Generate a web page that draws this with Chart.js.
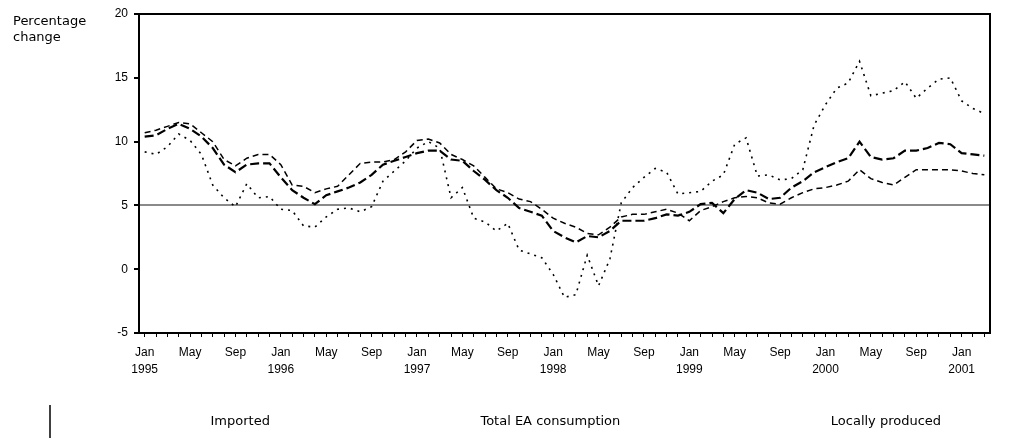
<!DOCTYPE html>
<html>
<head>
<meta charset="utf-8">
<title>Percentage change</title>
<script src="https://cdn.jsdelivr.net/npm/chart.js"></script>
<style>
	html, body { margin: 0; padding: 0; background: #fff; }
	#price-chart { display: block; }
</style>
</head>
<body>
<canvas id="price-chart" width="1027" height="439"></canvas>
<script>
var monthNames = ['Jan', 'Feb', 'Mar', 'Apr', 'May', 'Jun', 'Jul', 'Aug', 'Sep', 'Oct', 'Nov', 'Dec'];
var years = [1995, 1996, 1997, 1998, 1999, 2000, 2001];
var tickEvery = 4;
var yTicks = [-5, 0, 5, 10, 15, 20];
var refLine = 5;
var yTitle = ['Percentage', 'change'];
var seriesNames = ['Imported', 'Total EA consumption', 'Locally produced'];

var imported = [
	9.2, 9.0, 9.6, 10.6, 10.1, 9.0, 6.6, 5.6, 4.9, 6.7, 5.6, 5.7,
	4.7, 4.6, 3.4, 3.3, 4.1, 4.7, 4.8, 4.5, 4.9, 6.9, 7.7, 8.5,
	9.5, 10.0, 9.5, 5.6, 6.4, 4.0, 3.7, 3.0, 3.6, 1.5, 1.2, 0.9,
	-0.4, -2.2, -2.0, 1.1, -1.3, 0.8, 5.2, 6.4, 7.2, 7.9, 7.6, 5.9,
	6.0, 6.1, 6.9, 7.4, 9.8, 10.3, 7.3, 7.4, 7.0, 7.1, 7.8, 11.3,
	12.9, 14.2, 14.6, 16.3, 13.6, 13.8, 14.0, 14.7, 13.4, 14.2, 14.9, 15.0,
	13.2, 12.6, 12.2
];
var totalEA = [
	10.4, 10.5, 11.0, 11.4, 11.0, 10.4, 9.5, 8.2, 7.6, 8.2, 8.3, 8.3,
	7.2, 6.2, 5.6, 5.1, 5.8, 6.1, 6.4, 6.8, 7.4, 8.2, 8.5, 8.8,
	9.1, 9.3, 9.3, 8.6, 8.5, 7.7, 7.0, 6.2, 5.6, 4.8, 4.5, 4.2,
	3.0, 2.5, 2.1, 2.6, 2.5, 3.0, 3.8, 3.8, 3.8, 4.0, 4.3, 4.2,
	4.5, 5.1, 5.2, 4.4, 5.5, 6.2, 6.0, 5.5, 5.6, 6.4, 6.9, 7.6,
	8.0, 8.4, 8.7, 10.0, 8.8, 8.6, 8.7, 9.3, 9.3, 9.5, 9.9, 9.8,
	9.1, 9.0, 8.9
];
var locallyProduced = [
	10.7, 10.9, 11.2, 11.5, 11.4, 10.7, 10.0, 8.6, 8.1, 8.7, 9.0, 9.0,
	8.2, 6.6, 6.5, 6.0, 6.3, 6.5, 7.4, 8.3, 8.4, 8.4, 8.6, 9.2,
	10.1, 10.2, 9.9, 9.0, 8.6, 8.1, 7.2, 6.3, 6.0, 5.5, 5.3, 4.7,
	4.0, 3.6, 3.3, 2.8, 2.7, 3.3, 4.1, 4.3, 4.3, 4.5, 4.7, 4.4,
	3.8, 4.6, 4.9, 5.3, 5.6, 5.7, 5.6, 5.2, 5.1, 5.6, 6.0, 6.3,
	6.4, 6.6, 6.9, 7.8, 7.1, 6.8, 6.6, 7.2, 7.8, 7.8, 7.8, 7.8,
	7.7, 7.5, 7.4
];

var labels = [];
for (var i = 0; i < imported.length; i++) {
	var mon = monthNames[i % 12];
	labels.push(i % 12 === 0 ? [mon, String(years[Math.floor(i / 12)])] : mon);
}

var tickFont = { family: 'Liberation Sans', size: 12, lineHeight: 1.35 };

var frame = {
	id: 'frame',
	beforeDatasetsDraw: function (chart) {
		var a = chart.chartArea;
		var ctx = chart.ctx;
		ctx.save();
		ctx.strokeStyle = '#000';
		ctx.lineWidth = 2;
		ctx.beginPath();
		ctx.moveTo(a.left, a.top);
		ctx.lineTo(a.right, a.top);
		ctx.lineTo(a.right, a.bottom);
		ctx.stroke();
		ctx.restore();
	},
	afterDraw: function (chart) {
		var ctx = chart.ctx;
		var lg = chart.legend;
		ctx.save();
		ctx.fillStyle = '#000';
		ctx.font = '13px "DejaVu Sans"';
		ctx.textBaseline = 'alphabetic';
		ctx.fillText(yTitle[0], 13, 25);
		ctx.fillText(yTitle[1], 13, 41);
		// left edge of the old legend box
		ctx.strokeStyle = '#000';
		ctx.lineWidth = 1.5;
		ctx.beginPath();
		ctx.moveTo(50, lg.top);
		ctx.lineTo(50, lg.bottom);
		ctx.stroke();
		ctx.restore();
	}
};

var ctx = document.getElementById('price-chart').getContext('2d');
var myChart = new Chart(ctx, {
	type: 'line',
	data: {
		labels: labels,
		datasets: [
			{
				label: seriesNames[0],
				data: imported,
				borderColor: '#000',
				borderWidth: 1.6,
				borderDash: [2, 5],
				pointRadius: 0,
				tension: 0,
				fill: false
			},
			{
				label: seriesNames[1],
				data: totalEA,
				borderColor: '#000',
				borderWidth: 2.2,
				borderDash: [9, 4],
				pointRadius: 0,
				tension: 0,
				fill: false
			},
			{
				label: seriesNames[2],
				data: locallyProduced,
				borderColor: '#000',
				borderWidth: 1.5,
				borderDash: [6, 4],
				pointRadius: 0,
				tension: 0,
				fill: false
			}
		]
	},
	options: {
		responsive: false,
		animation: false,
		devicePixelRatio: 1,
		layout: { padding: { top: 14, right: 37, bottom: 1, left: 0 } },
		scales: {
			x: {
				offset: true,
				grid: { drawOnChartArea: false, drawTicks: true, tickLength: 4, tickColor: '#000', offset: false },
				border: { color: '#000', width: 2 },
				ticks: {
					autoSkip: false,
					maxRotation: 0,
					minRotation: 0,
					padding: 8,
					color: '#000',
					font: tickFont,
					callback: function (value, index) {
						return index % tickEvery === 0 ? this.getLabelForValue(value) : '';
					}
				},
				afterFit: function (scale) { scale.height = 72; }
			},
			y: {
				min: yTicks[0],
				max: yTicks[yTicks.length - 1],
				grid: {
					lineWidth: 2,
					tickLength: 5,
					tickColor: '#000',
					color: function (c) {
						return c.tick && c.tick.value === refLine ? '#8a8a8a' : 'rgba(0,0,0,0)';
					}
				},
				border: { color: '#000', width: 2 },
				ticks: { stepSize: yTicks[1] - yTicks[0], padding: 6, color: '#000', font: tickFont },
				afterFit: function (scale) { scale.width = 139; }
			}
		},
		plugins: {
			tooltip: { enabled: false },
			legend: {
				position: 'bottom',
				align: 'start',
				labels: {
					boxWidth: 194,
					padding: 10,
					color: '#000',
					font: { family: 'DejaVu Sans', size: 13 },
					generateLabels: function (chart) {
						var items = Chart.defaults.plugins.legend.labels.generateLabels(chart);
						items.forEach(function (it) {
							it.fillStyle = 'rgba(0,0,0,0)';
							it.strokeStyle = 'rgba(0,0,0,0)';
							it.lineWidth = 0;
							it.lineDash = [];
						});
						return items;
					}
				}
			}
		}
	},
	plugins: [frame]
});
</script>
</body>
</html>
